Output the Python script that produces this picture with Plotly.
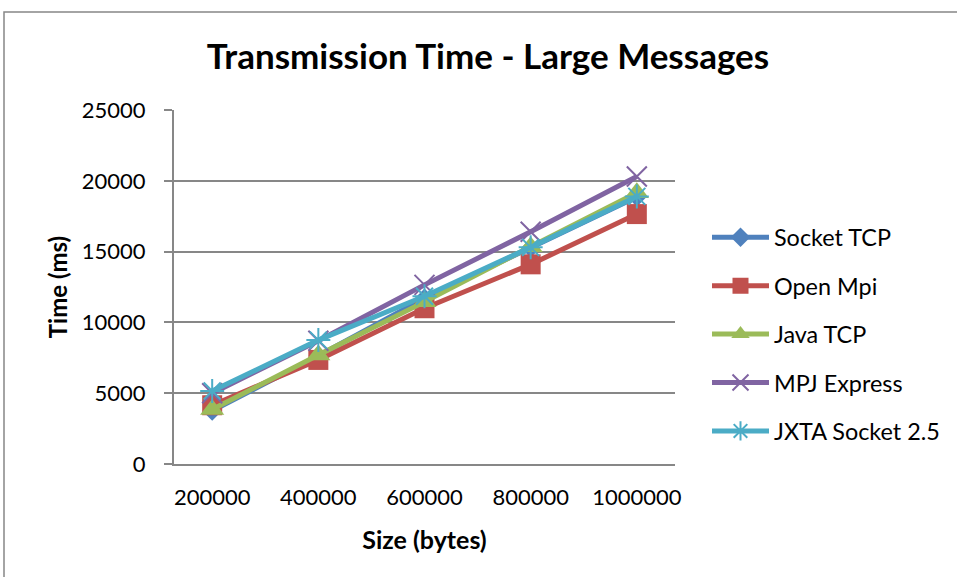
import plotly.graph_objects as go

# Message sizes (bytes) and transmission times (ms) per library
sizes = ["200000", "400000", "600000", "800000", "1000000"]
socket_tcp = [3750, 7650, 11700, 15250, 18850]
open_mpi = [4150, 7350, 11000, 14100, 17650]
java_tcp = [3850, 7700, 11450, 15350, 19150]
mpj_express = [5000, 8700, 12650, 16400, 20300]
jxta_socket = [5150, 8750, 11850, 15300, 18900]

series = [
    ("Socket TCP", socket_tcp, "#4F81BD", "diamond", 15, 0),
    ("Open Mpi", open_mpi, "#C0504D", "square", 20, 0),
    ("Java TCP", java_tcp, "#9BBB59", "triangle-up", 21, 0),
    ("MPJ Express", mpj_express, "#8064A2", "x-thin-open", 20, 2),
    ("JXTA Socket 2.5", jxta_socket, "#4BACC6", "asterisk-open", 20, 2),
]

FONT = "Lato"
GRID = "#878787"

fig = go.Figure()
for i, (name, vals, color, sym, size, lw) in enumerate(series):
    fig.add_trace(go.Scatter(
        x=sizes, y=vals, name=name, mode="lines+markers",
        legendgroup=f"g{i}",
        line=dict(color=color, width=5),
        marker=dict(symbol=sym, size=size, color=color,
                    line=dict(color=color, width=lw)),
    ))

fig.update_layout(
    width=957, height=577,
    margin=dict(l=174, r=282, t=110, b=113, autoexpand=False),
    paper_bgcolor="white", plot_bgcolor="white",
    font=dict(family=FONT, size=22, color="black"),
    title=dict(text="<b>Transmission Time - Large Messages</b>",
               x=488 / 957, xref="container", xanchor="center",
               y=1 - 57 / 577, yanchor="middle",
               font=dict(family=FONT, size=35, color="black")),
    showlegend=True,
    legend=dict(xref="container", x=707 / 957, xanchor="left",
                yref="container", y=1 - 334.5 / 577, yanchor="middle",
                font=dict(family=FONT, size=23.4, color="black"),
                itemwidth=57,
                tracegroupgap=15, bgcolor="rgba(0,0,0,0)"),
    xaxis=dict(type="category", showgrid=False, showline=True,
               linecolor=GRID, linewidth=2, ticks="", zeroline=False,
               automargin=False,
               tickfont=dict(family=FONT, size=22),
               ticklabelstandoff=13,
               title=dict(text="<b>Size (bytes)</b>", standoff=22,
                          font=dict(family=FONT, size=25))),
    yaxis=dict(range=[0, 25000], dtick=5000, tickformat="d", showgrid=True,
               gridcolor=GRID, gridwidth=2, showline=True,
               linecolor=GRID, linewidth=2, ticks="outside", ticklen=8,
               tickcolor=GRID, tickwidth=2, zeroline=False,
               automargin=False,
               tickfont=dict(family=FONT, size=22),
               ticklabelstandoff=14,
               title=dict(text="<b>Time (ms)</b>", standoff=7,
                          font=dict(family=FONT, size=24))),
)

# Outer chart frame
fig.add_shape(type="rect", xref="paper", yref="paper",
              x0=(4 - 174) / 501, x1=(962 - 174) / 501,
              y0=(464 - 590) / 354, y1=(464 - 12) / 354,
              line=dict(color=GRID, width=1.5), layer="below")

fig.write_html("out.html")
